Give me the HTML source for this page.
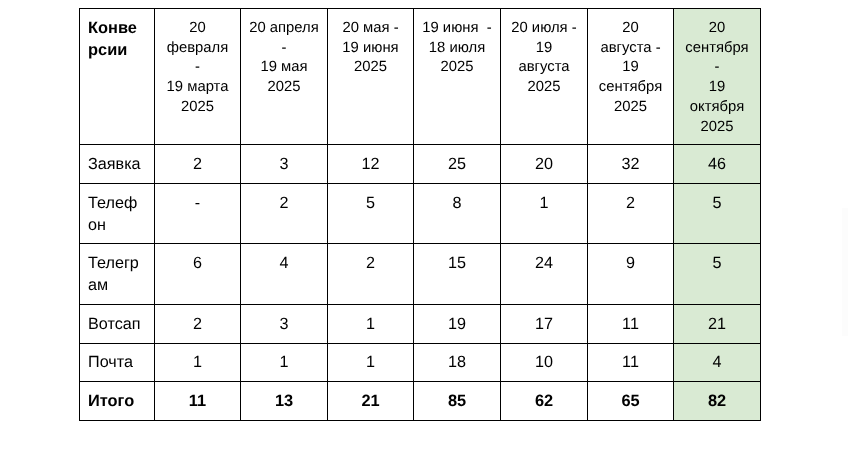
<!DOCTYPE html>
<html lang="ru"><head><meta charset="utf-8"><title>Конверсии</title>
<style>
html,body{margin:0;padding:0;background:#fff;}
body{width:857px;height:450px;position:relative;overflow:hidden;font-family:"Liberation Sans",Arial,sans-serif;color:#000;}
#t{position:absolute;left:0;top:0;width:857px;height:450px;will-change:transform;}
.g{position:absolute;background:#d9ead3;}
.v,.h{position:absolute;background:#000;}
.c{position:absolute;transform:skewX(0.05deg);white-space:pre;text-align:center;font-size:16.2px;line-height:22px;}
.c p{margin:0;padding:0;height:22px;}
.d{font-size:14.85px;line-height:20px;}
.d p{height:20px;}
.d p.s{height:19px;}
.l{text-align:left;}
.b{font-weight:bold;font-size:16.4px;}
</style></head><body><div id="t">
<div class="g" style="left:673px;top:8px;width:87px;height:412px"></div>
<div class="v" style="left:79px;top:8px;width:1px;height:413px"></div>
<div class="v" style="left:154px;top:8px;width:1px;height:413px"></div>
<div class="v" style="left:240px;top:8px;width:1px;height:413px"></div>
<div class="v" style="left:327px;top:8px;width:1px;height:413px"></div>
<div class="v" style="left:413px;top:8px;width:1px;height:413px"></div>
<div class="v" style="left:500px;top:8px;width:1px;height:413px"></div>
<div class="v" style="left:587px;top:8px;width:1px;height:413px"></div>
<div class="v" style="left:673px;top:8px;width:1px;height:413px"></div>
<div class="v" style="left:760px;top:8px;width:1px;height:413px"></div>
<div class="h" style="left:79px;top:8px;width:682px;height:1px"></div>
<div class="h" style="left:79px;top:144px;width:682px;height:1px"></div>
<div class="h" style="left:79px;top:183px;width:682px;height:1px"></div>
<div class="h" style="left:79px;top:243px;width:682px;height:1px"></div>
<div class="h" style="left:79px;top:304px;width:682px;height:1px"></div>
<div class="h" style="left:79px;top:343px;width:682px;height:1px"></div>
<div class="h" style="left:79px;top:381px;width:682px;height:1px"></div>
<div class="h" style="left:79px;top:420px;width:682px;height:1px"></div>
<div class="c l b" style="left:88px;top:16px;width:66px"><p>Конве</p><p>рсии</p></div>
<div class="c d" style="left:155px;top:17px;width:85px"><p>20</p><p class="s">февраля</p><p>-</p><p>19 марта</p><p>2025</p></div>
<div class="c d" style="left:241px;top:17px;width:86px"><p>20 апреля</p><p class="s">-</p><p>19 мая</p><p>2025</p></div>
<div class="c d" style="left:328px;top:17px;width:85px"><p>20 мая -</p><p class="s">19 июня</p><p>2025</p></div>
<div class="c d" style="left:414px;top:17px;width:86px"><p>19 июня  -</p><p class="s">18 июля</p><p>2025</p></div>
<div class="c d" style="left:501px;top:17px;width:86px"><p>20 июля -</p><p class="s">19</p><p>августа</p><p>2025</p></div>
<div class="c d" style="left:588px;top:17px;width:85px"><p>20</p><p class="s">августа -</p><p>19</p><p>сентября</p><p>2025</p></div>
<div class="c d" style="left:674px;top:17px;width:86px"><p>20</p><p class="s">сентября</p><p>-</p><p>19</p><p>октября</p><p>2025</p></div>
<div class="c l" style="left:88px;top:152px;width:66px"><p>Заявка</p></div>
<div class="c" style="left:155px;top:152px;width:85px"><p>2</p></div>
<div class="c" style="left:241px;top:152px;width:86px"><p>3</p></div>
<div class="c" style="left:328px;top:152px;width:85px"><p>12</p></div>
<div class="c" style="left:414px;top:152px;width:86px"><p>25</p></div>
<div class="c" style="left:501px;top:152px;width:86px"><p>20</p></div>
<div class="c" style="left:588px;top:152px;width:85px"><p>32</p></div>
<div class="c" style="left:674px;top:152px;width:86px"><p>46</p></div>
<div class="c l" style="left:88px;top:191px;width:66px"><p>Телеф</p><p>он</p></div>
<div class="c" style="left:155px;top:191px;width:85px"><p>-</p></div>
<div class="c" style="left:241px;top:191px;width:86px"><p>2</p></div>
<div class="c" style="left:328px;top:191px;width:85px"><p>5</p></div>
<div class="c" style="left:414px;top:191px;width:86px"><p>8</p></div>
<div class="c" style="left:501px;top:191px;width:86px"><p>1</p></div>
<div class="c" style="left:588px;top:191px;width:85px"><p>2</p></div>
<div class="c" style="left:674px;top:191px;width:86px"><p>5</p></div>
<div class="c l" style="left:88px;top:251px;width:66px"><p>Телегр</p><p>ам</p></div>
<div class="c" style="left:155px;top:251px;width:85px"><p>6</p></div>
<div class="c" style="left:241px;top:251px;width:86px"><p>4</p></div>
<div class="c" style="left:328px;top:251px;width:85px"><p>2</p></div>
<div class="c" style="left:414px;top:251px;width:86px"><p>15</p></div>
<div class="c" style="left:501px;top:251px;width:86px"><p>24</p></div>
<div class="c" style="left:588px;top:251px;width:85px"><p>9</p></div>
<div class="c" style="left:674px;top:251px;width:86px"><p>5</p></div>
<div class="c l" style="left:88px;top:312px;width:66px"><p>Вотсап</p></div>
<div class="c" style="left:155px;top:312px;width:85px"><p>2</p></div>
<div class="c" style="left:241px;top:312px;width:86px"><p>3</p></div>
<div class="c" style="left:328px;top:312px;width:85px"><p>1</p></div>
<div class="c" style="left:414px;top:312px;width:86px"><p>19</p></div>
<div class="c" style="left:501px;top:312px;width:86px"><p>17</p></div>
<div class="c" style="left:588px;top:312px;width:85px"><p>11</p></div>
<div class="c" style="left:674px;top:312px;width:86px"><p>21</p></div>
<div class="c l" style="left:88px;top:350px;width:66px"><p>Почта</p></div>
<div class="c" style="left:155px;top:350px;width:85px"><p>1</p></div>
<div class="c" style="left:241px;top:350px;width:86px"><p>1</p></div>
<div class="c" style="left:328px;top:350px;width:85px"><p>1</p></div>
<div class="c" style="left:414px;top:350px;width:86px"><p>18</p></div>
<div class="c" style="left:501px;top:350px;width:86px"><p>10</p></div>
<div class="c" style="left:588px;top:350px;width:85px"><p>11</p></div>
<div class="c" style="left:674px;top:350px;width:86px"><p>4</p></div>
<div class="c l b" style="left:88px;top:389px;width:66px"><p>Итого</p></div>
<div class="c b" style="left:155px;top:389px;width:85px"><p>11</p></div>
<div class="c b" style="left:241px;top:389px;width:86px"><p>13</p></div>
<div class="c b" style="left:328px;top:389px;width:85px"><p>21</p></div>
<div class="c b" style="left:414px;top:389px;width:86px"><p>85</p></div>
<div class="c b" style="left:501px;top:389px;width:86px"><p>62</p></div>
<div class="c b" style="left:588px;top:389px;width:85px"><p>65</p></div>
<div class="c b" style="left:674px;top:389px;width:86px"><p>82</p></div>
<div style="position:absolute;left:842px;top:208px;width:6px;height:128px;background:#fcfcfc"></div>
</div></body></html>
